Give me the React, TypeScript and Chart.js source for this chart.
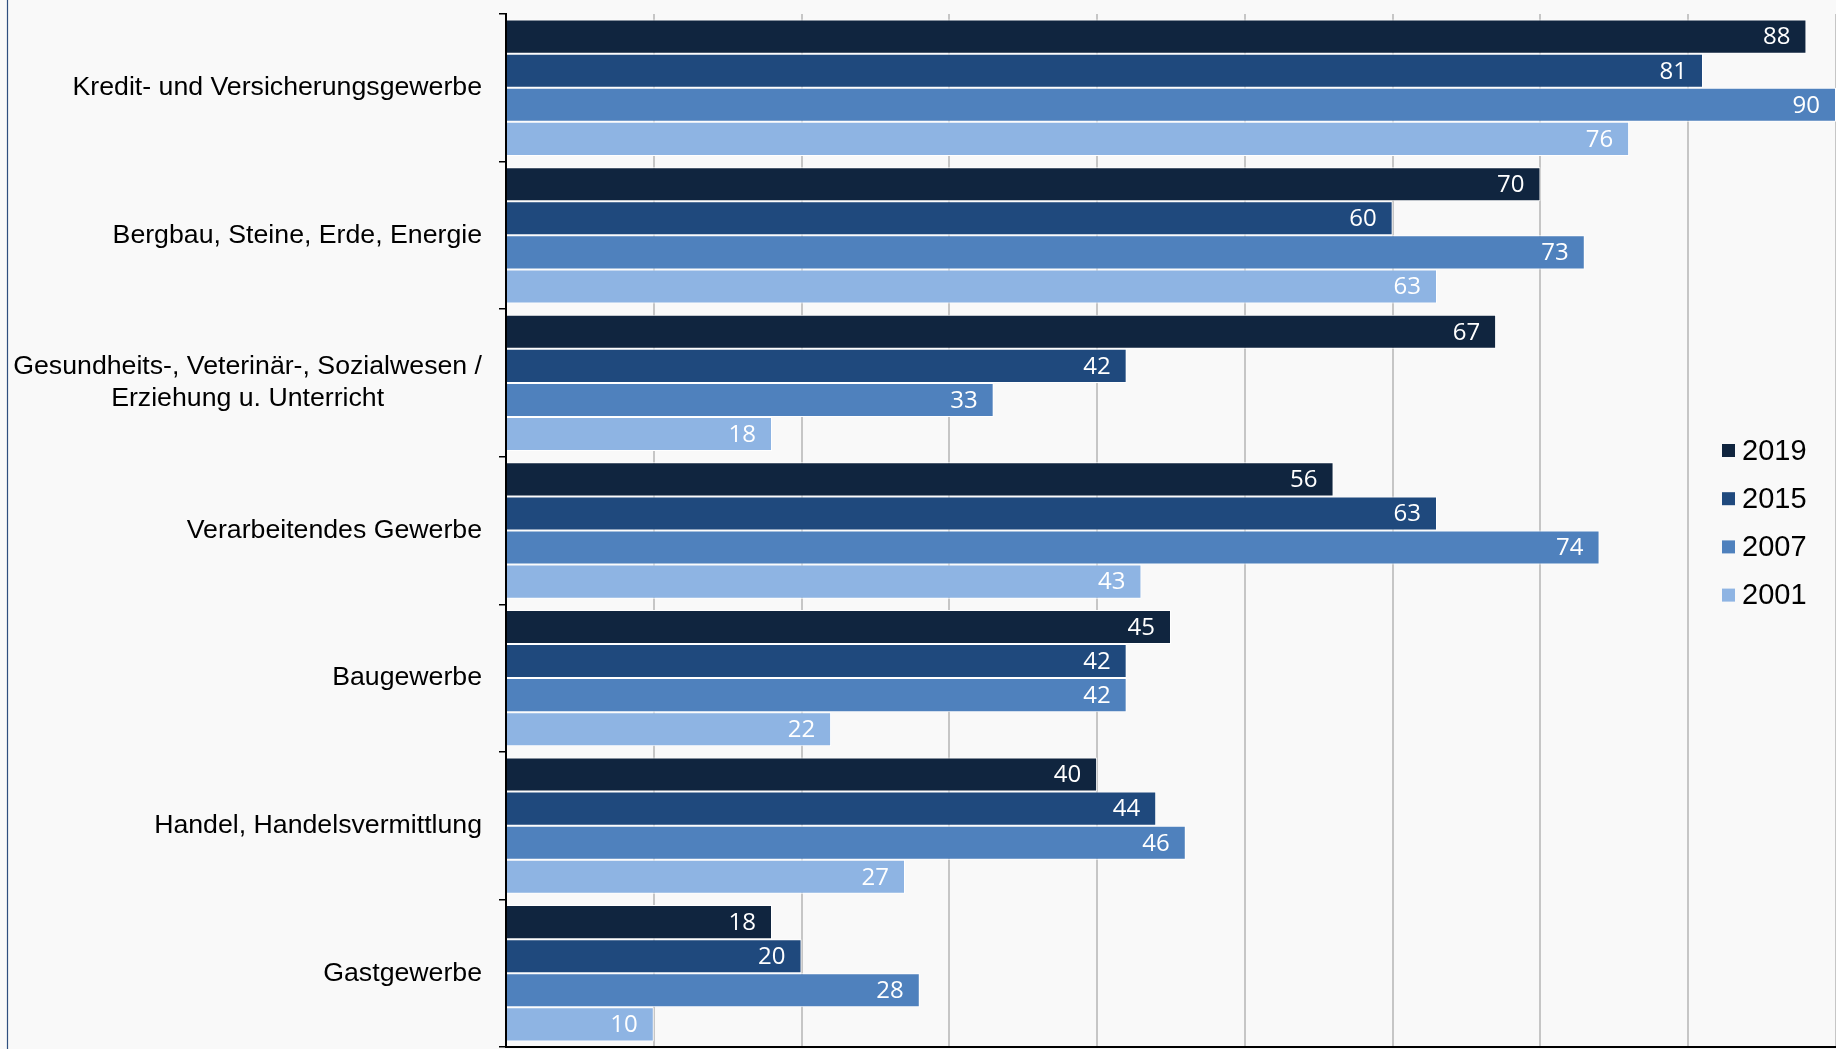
import React, { useEffect, useRef } from "react";
import { Chart, registerables } from "chart.js";

Chart.register(...registerables);

const categories: (string | string[])[] = [
  "Kredit- und Versicherungsgewerbe",
  "Bergbau, Steine, Erde, Energie",
  ["Gesundheits-, Veterinär-, Sozialwesen /", "Erziehung u. Unterricht"],
  "Verarbeitendes Gewerbe",
  "Baugewerbe",
  "Handel, Handelsvermittlung",
  "Gastgewerbe",
];

const seriesNames = ["2019", "2015", "2007", "2001"];
const values2019 = [88, 70, 67, 56, 45, 40, 18];
const values2015 = [81, 60, 42, 63, 42, 44, 20];
const values2007 = [90, 73, 33, 74, 42, 46, 28];
const values2001 = [76, 63, 18, 43, 22, 27, 10];
const seriesColors = ["#10253F", "#1F497D", "#4F81BD", "#8EB4E3"];
const xTickStep = 10;
const xMax = 90;

const W = 1836;
const H = 1049;

const labelPlugin = {
  id: "customLabels",
  afterDatasetsDraw(chart: any) {
    const ctx = chart.ctx;
    ctx.save();
    // data labels
    ctx.font = '24px "Open Sans"';
    ctx.fillStyle = "#ffffff";
    ctx.textAlign = "right";
    ctx.textBaseline = "middle";
    chart.data.datasets.forEach((ds: any, di: number) => {
      const meta = chart.getDatasetMeta(di);
      meta.data.forEach((el: any, i: number) => {
        ctx.fillText(String(ds.data[i]), el.x - 16, el.y + 1);
      });
    });
    ctx.restore();
  },
  afterDraw(chart: any) {
    const ctx = chart.ctx;
    const yScale = chart.scales.y;
    ctx.save();
    // category labels
    ctx.font = '26.7px "Liberation Sans", Arial, sans-serif';
    ctx.fillStyle = "#000000";
    ctx.textBaseline = "middle";
    const xr = chart.chartArea.left - 24;
    const lineH = 31.6;
    chart.data.labels.forEach((lab: any, i: number) => {
      const y = yScale.getPixelForValue(i);
      if (Array.isArray(lab)) {
        const widest = Math.max(...lab.map((l: string) => ctx.measureText(l).width));
        const cx = xr - widest / 2;
        ctx.textAlign = "center";
        lab.forEach((l: string, k: number) => {
          ctx.fillText(l, cx, y + (k - (lab.length - 1) / 2) * lineH);
        });
      } else {
        ctx.textAlign = "right";
        ctx.fillText(lab, xr, y);
      }
    });
    // legend
    ctx.font = '29px "Liberation Sans", Arial, sans-serif';
    ctx.textAlign = "left";
    chart.data.datasets.forEach((ds: any, di: number) => {
      const cy = 450.5 + di * 48.2;
      ctx.fillStyle = ds.backgroundColor;
      ctx.fillRect(1722, cy - 6.5, 13, 13);
      ctx.fillStyle = "#000000";
      ctx.fillText(ds.label, 1742, cy + 1);
    });
    // left border line
    ctx.strokeStyle = "#2F4F7F";
    ctx.lineWidth = 1.2;
    ctx.beginPath();
    ctx.moveTo(7.5, 0);
    ctx.lineTo(7.5, H);
    ctx.stroke();
    ctx.restore();
  },
};

const bgPlugin = {
  id: "bg",
  beforeDraw(chart: any) {
    const ctx = chart.ctx;
    ctx.save();
    ctx.fillStyle = "#F9F9F9";
    ctx.fillRect(0, 0, chart.width, chart.height);
    ctx.restore();
  },
};

export default function App() {
  const ref = useRef<HTMLCanvasElement | null>(null);

  useEffect(() => {
    document.body.style.margin = "0";
    document.body.style.background = "#F9F9F9";
    document.body.style.overflow = "hidden";
    const seriesValues = [values2019, values2015, values2007, values2001];
    const chart = new Chart(ref.current as HTMLCanvasElement, {
      type: "bar",
      data: {
        labels: categories as any,
        datasets: seriesNames.map((name, i) => ({
          label: name,
          data: seriesValues[i],
          backgroundColor: seriesColors[i],
          borderColor: "#ffffff",
          borderWidth: 1,
          categoryPercentage: 0.924,
          barPercentage: 1.0,
        })),
      },
      options: {
        indexAxis: "y",
        responsive: false,
        animation: false,
        devicePixelRatio: 1,
        layout: { padding: { top: 14, bottom: 2, left: 0, right: 0 } },
        plugins: {
          legend: { display: false },
          tooltip: { enabled: false },
        },
        scales: {
          x: {
            min: 0,
            max: xMax,
            ticks: { display: false, stepSize: xTickStep },
            grid: {
              color: "#C6C6C6",
              lineWidth: 2,
              drawTicks: false,
            },
            border: { display: true, color: "#000000", width: 2 },
            afterFit(s: any) {
              s.height = 0;
            },
          },
          y: {
            ticks: { display: false },
            grid: {
              display: true,
              drawOnChartArea: false,
              drawTicks: true,
              tickLength: 7,
              color: "#000000",
              lineWidth: 1.5,
              offset: true,
            },
            border: { display: true, color: "#000000", width: 2 },
            afterFit(s: any) {
              s.width = 506;
            },
          },
        },
      },
      plugins: [bgPlugin, labelPlugin],
    } as any);
    return () => chart.destroy();
  }, []);

  return (
    <div style={{ width: W, height: H }}>
      <canvas ref={ref} width={W} height={H} style={{ display: "block", width: W, height: H }} />
    </div>
  );
}
